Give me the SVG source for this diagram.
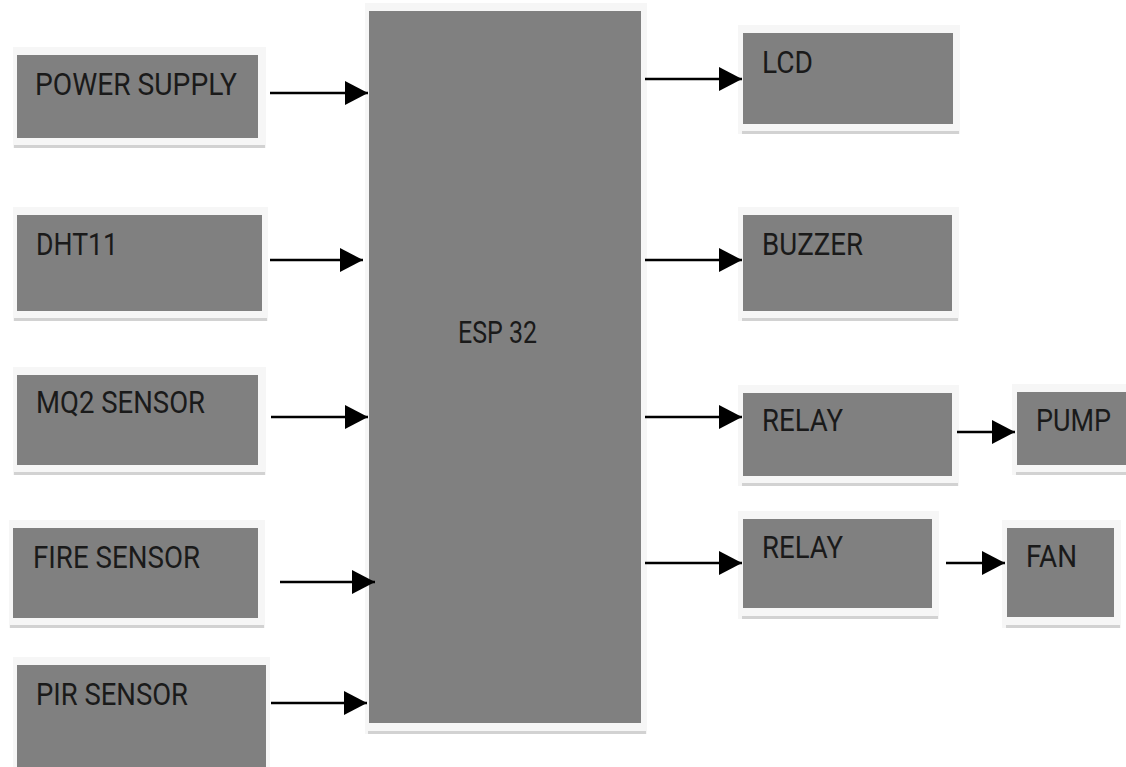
<svg xmlns="http://www.w3.org/2000/svg" width="1126" height="767" viewBox="0 0 1126 767">
<defs>
<style>
.halo{fill:#f6f6f6}
.shadow{fill:#d2d2d2}
.box{fill:#808080}
.lbl{font-family:Roboto,"Liberation Sans",sans-serif;font-size:32px;fill:#1a1a1a}
.conn{stroke:#000;stroke-width:2.6;fill:none}
</style>
<marker id="ah" markerUnits="userSpaceOnUse" markerWidth="23" markerHeight="24" refX="23" refY="12" orient="auto" viewBox="0 0 23 24">
<path d="M0,0 L23,12 L0,24 Z" fill="#000"/>
</marker>
</defs>
<rect width="1126" height="767" fill="#fff"/>

<g id="power-supply">
<rect class="halo" x="13" y="47" width="253" height="101"/>
<rect class="shadow" x="14" y="145" width="251" height="3"/>
<rect class="box" x="17" y="55" width="241" height="83"/>
<text class="lbl" x="35" y="95" textLength="202" lengthAdjust="spacingAndGlyphs">POWER SUPPLY</text>
</g>
<g id="dht11">
<rect class="halo" x="13" y="207" width="255" height="114"/>
<rect class="shadow" x="14" y="318" width="253" height="3"/>
<rect class="box" x="17" y="215" width="245" height="96"/>
<text class="lbl" x="36" y="255" textLength="82" lengthAdjust="spacingAndGlyphs">DHT11</text>
</g>
<g id="mq2">
<rect class="halo" x="13" y="367" width="253" height="108"/>
<rect class="shadow" x="14" y="472" width="251" height="3"/>
<rect class="box" x="17" y="375" width="241" height="90"/>
<text class="lbl" x="36" y="413" textLength="169" lengthAdjust="spacingAndGlyphs">MQ2 SENSOR</text>
</g>
<g id="fire-sensor">
<rect class="halo" x="9" y="520" width="256" height="108"/>
<rect class="shadow" x="10" y="625" width="254" height="3"/>
<rect class="box" x="13" y="528" width="245" height="90"/>
<text class="lbl" x="33" y="568" textLength="167" lengthAdjust="spacingAndGlyphs">FIRE SENSOR</text>
</g>
<g id="pir-sensor">
<rect class="halo" x="13" y="657" width="257" height="110"/>
<rect class="box" x="17" y="665" width="249" height="102"/>
<text class="lbl" x="36" y="705" textLength="152" lengthAdjust="spacingAndGlyphs">PIR SENSOR</text>
</g>

<g id="esp32">
<rect class="halo" x="365" y="3" width="282" height="731"/>
<rect class="shadow" x="368" y="731" width="278" height="3"/>
<rect class="box" x="369" y="11" width="272" height="712"/>
<text class="lbl" x="458" y="343" textLength="79" lengthAdjust="spacingAndGlyphs">ESP 32</text>
</g>

<g id="lcd">
<rect class="halo" x="738" y="25" width="222" height="109"/>
<rect class="shadow" x="742" y="131" width="217" height="3"/>
<rect class="box" x="743" y="33" width="210" height="91"/>
<text class="lbl" x="762" y="73" textLength="51" lengthAdjust="spacingAndGlyphs">LCD</text>
</g>
<g id="buzzer">
<rect class="halo" x="738" y="207" width="221" height="114"/>
<rect class="shadow" x="742" y="318" width="216" height="3"/>
<rect class="box" x="743" y="215" width="209" height="96"/>
<text class="lbl" x="762" y="255" textLength="101" lengthAdjust="spacingAndGlyphs">BUZZER</text>
</g>
<g id="relay-1">
<rect class="halo" x="738" y="385" width="221" height="101"/>
<rect class="shadow" x="742" y="483" width="216" height="3"/>
<rect class="box" x="743" y="393" width="209" height="83"/>
<text class="lbl" x="762" y="431" textLength="81" lengthAdjust="spacingAndGlyphs">RELAY</text>
</g>
<g id="pump">
<rect class="halo" x="1012" y="384" width="114" height="91"/>
<rect class="shadow" x="1016" y="472" width="110" height="3"/>
<rect class="box" x="1017" y="392" width="109" height="73"/>
<text class="lbl" x="1036" y="431" textLength="75" lengthAdjust="spacingAndGlyphs">PUMP</text>
</g>
<g id="relay-2">
<rect class="halo" x="738" y="511" width="201" height="108"/>
<rect class="shadow" x="742" y="616" width="196" height="3"/>
<rect class="box" x="743" y="519" width="189" height="89"/>
<text class="lbl" x="762" y="558" textLength="81" lengthAdjust="spacingAndGlyphs">RELAY</text>
</g>
<g id="fan">
<rect class="halo" x="1002" y="520" width="119" height="108"/>
<rect class="shadow" x="1006" y="625" width="114" height="3"/>
<rect class="box" x="1007" y="528" width="107" height="89"/>
<text class="lbl" x="1026" y="567" textLength="51" lengthAdjust="spacingAndGlyphs">FAN</text>
</g>

<g id="connectors">
<line class="conn" x1="270" y1="93" x2="368" y2="93" marker-end="url(#ah)"/>
<line class="conn" x1="270" y1="260" x2="363" y2="260" marker-end="url(#ah)"/>
<line class="conn" x1="271" y1="417" x2="368" y2="417" marker-end="url(#ah)"/>
<line class="conn" x1="280" y1="582" x2="375" y2="582" marker-end="url(#ah)"/>
<line class="conn" x1="271" y1="703" x2="367" y2="703" marker-end="url(#ah)"/>
<line class="conn" x1="645" y1="79" x2="742" y2="79" marker-end="url(#ah)"/>
<line class="conn" x1="645" y1="260" x2="742" y2="260" marker-end="url(#ah)"/>
<line class="conn" x1="645" y1="417" x2="742" y2="417" marker-end="url(#ah)"/>
<line class="conn" x1="645" y1="563" x2="742" y2="563" marker-end="url(#ah)"/>
<line class="conn" x1="957" y1="432" x2="1015" y2="432" marker-end="url(#ah)"/>
<line class="conn" x1="946" y1="563" x2="1005" y2="563" marker-end="url(#ah)"/>
</g>
</svg>
